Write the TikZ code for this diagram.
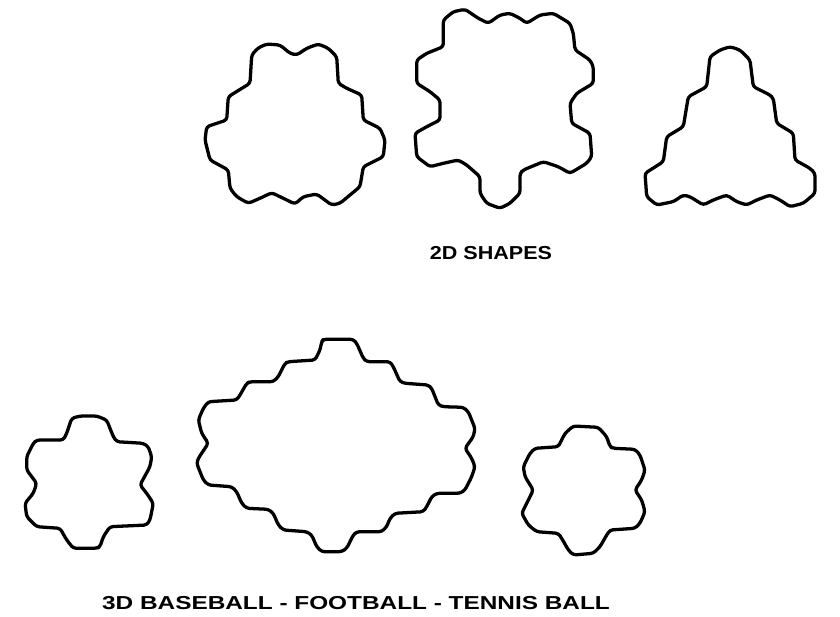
\documentclass[tikz,border=0pt]{standalone}
\usepackage{fontspec}
\setmainfont{Liberation Sans}
\usepackage{tikz}

\begin{document}
\begin{tikzpicture}[x=0.03cm,y=-0.03cm,line cap=round,
  outline/.style={line width=2.8pt,line join=round,rounded corners=2.5pt},
  caption/.style={font=\fontsize{16}{16}\selectfont\bfseries,inner sep=0pt}]
\useasboundingbox (0,0) rectangle (840,617);
% top row
\draw[outline] (251.7,55) -- (258,48) -- (266.7,44) -- (280,45) -- (290,53.3) -- (296.7,55)
  -- (306.7,48.3) -- (318.3,44) -- (328.3,48.3) -- (336.7,56.7) -- (338.3,83.3) -- (346.7,88.3)
  -- (361.7,95) -- (363.3,120) -- (380,128.3) -- (385,140) -- (383.3,156.7) -- (363.3,166.7)
  -- (360,186.7) -- (340,203.3) -- (331.7,205) -- (316.7,194) -- (303.3,196.7) -- (295,204)
  -- (283.3,198.3) -- (271.7,192.7) -- (260,198.3) -- (248.3,203.3) -- (236.7,196.7) -- (230,188.3)
  -- (228.3,170) -- (210,160) -- (205,140) -- (206.7,126.7) -- (226.7,120) -- (228.3,96.7)
  -- (250,83.3) -- cycle;
\draw[outline] (443.3,20) -- (453.3,11.7) -- (465,9.3) -- (478.3,18.3) -- (488.3,23.3) -- (500,15)
  -- (510,13.3) -- (520,18.3) -- (526.7,23.3) -- (540,15) -- (553.3,13.3) -- (570,23.3)
  -- (573.3,33.3) -- (575,50) -- (590,60) -- (593.3,66.7) -- (593.3,83.3) -- (576.7,93.3)
  -- (570,103.3) -- (571.7,123.3) -- (590,133.3) -- (591.7,156.7) -- (586.7,163.3) -- (570,173.3)
  -- (558.3,166.7) -- (543.3,161.7) -- (523.3,170) -- (520,173.3) -- (520,193.3) -- (510,203.3)
  -- (500,208.3) -- (486.7,203.3) -- (480,193.3) -- (480,176.7) -- (466.7,165) -- (458.3,160)
  -- (443.3,163.3) -- (430,166.7) -- (416.7,156.7) -- (415,133.3) -- (426.7,126.7) -- (440,120)
  -- (440,100) -- (430,91.7) -- (416.7,83.3) -- (416.7,60) -- (426.7,53.3) -- (443.3,46.7) -- cycle;
\draw[outline] (710,56.7) -- (720,50) -- (730,46.7) -- (740,50) -- (750,60) -- (753.3,86.7)
  -- (770,95) -- (773.3,98.3) -- (776.7,123.3) -- (793.3,133.3) -- (795,160) -- (810,168.3)
  -- (815,173.3) -- (815,193.3) -- (803.3,203.3) -- (790,206.7) -- (780,200) -- (770,195)
  -- (756.7,200) -- (746.7,205) -- (736.7,201.7) -- (726.7,195) -- (713.3,200) -- (703.3,205)
  -- (690,196.7) -- (683.3,195) -- (673.3,201.7) -- (656.7,205) -- (646.7,196.7) -- (645,173.3)
  -- (663.3,161.7) -- (666.7,136.7) -- (683.3,126.7) -- (688.3,96.7) -- (706.7,86.7) -- cycle;
\node[caption,xscale=1.15] (shapes) at (491,253) {2D SHAPES};
% bottom row
\draw[outline] (71.7,418.3) -- (80,416) -- (96.7,416) -- (106.7,420) -- (113.3,436.7) -- (116.7,441.7)
  -- (143.3,443.3) -- (148.3,446.7) -- (151.7,456.7) -- (150,466.7) -- (140,485) -- (146.7,493.3)
  -- (153.3,503.3) -- (150,520) -- (146.7,525) -- (110,526.7) -- (103.3,536.7) -- (100,546.7)
  -- (96.7,548.3) -- (73.3,548.3) -- (66.7,540) -- (60,528.3) -- (36.7,526.7) -- (26.7,516.7)
  -- (25,503.3) -- (33.3,493.3) -- (36.7,483.3) -- (26.7,470) -- (26.7,456.7) -- (33.3,443.3)
  -- (36.7,440) -- (63.3,440) -- (66.7,433.3) -- cycle;
\draw[outline] (321.7,341.7) -- (323.3,339.3) -- (353.3,339.3) -- (356.7,343.3) -- (363.3,358.3)
  -- (366.7,361.7) -- (390,361.7) -- (393.3,366.7) -- (400,381.7) -- (405,383.3) -- (428.3,385)
  -- (431.7,388.3) -- (438.3,405) -- (443.3,406.7) -- (463.3,407.3) -- (468.3,411.7) -- (475,428.3)
  -- (473.3,436.7) -- (465,448.3) -- (471.7,458.3) -- (475,466.7) -- (471.7,476.7) -- (465,490)
  -- (460,493.3) -- (436.7,493.3) -- (431.7,496.7) -- (426.7,506.7) -- (423.3,511.7) -- (395,513.3)
  -- (390,518.3) -- (386.7,526.7) -- (381.7,531.7) -- (356.7,531.7) -- (353.3,535) -- (346.7,548.3)
  -- (341.7,551.7) -- (321.7,551.7) -- (316.7,546.7) -- (311.7,535) -- (306.7,531.7) -- (283.3,530)
  -- (278.3,525) -- (273.3,513.3) -- (268.3,509.3) -- (246.7,508.3) -- (241.7,503.3) -- (236.7,491.7)
  -- (231.7,486.7) -- (208.3,485) -- (203.3,480) -- (196.7,463.3) -- (198.3,458.3) -- (208.3,443.3)
  -- (201.7,433.3) -- (198.3,420) -- (203.3,408.3) -- (208.3,401.7) -- (236.7,400) -- (240,395)
  -- (246.7,383.3) -- (250,381.7) -- (273.3,381.7) -- (278.3,376.7) -- (285,363.3) -- (288.3,361.7)
  -- (315,360) -- (320,350) -- cycle;
\draw[outline] (565,433.3) -- (573.3,426) -- (598.3,427.3) -- (606.7,436.7) -- (610,446.7) -- (613.3,448.3)
  -- (635,449.3) -- (640,455) -- (645,470) -- (641.7,480) -- (635,490) -- (641.7,500) -- (645,511.7)
  -- (640,523.3) -- (635,528.3) -- (610,530) -- (606.7,535) -- (600,546.7) -- (593.3,553.3)
  -- (573.3,555) -- (568.3,550) -- (561.7,538.3) -- (558.3,533.3) -- (536.7,531.7) -- (528.3,525)
  -- (521.7,513.3) -- (526.7,503.3) -- (533.3,490) -- (525,476.7) -- (523.3,466.7) -- (530,453.3)
  -- (535,448.3) -- (558.3,446.7) -- cycle;
\node[caption,xscale=1.30] (balls) at (356,603) {3D BASEBALL - FOOTBALL - TENNIS BALL};
\end{tikzpicture}
\end{document}
